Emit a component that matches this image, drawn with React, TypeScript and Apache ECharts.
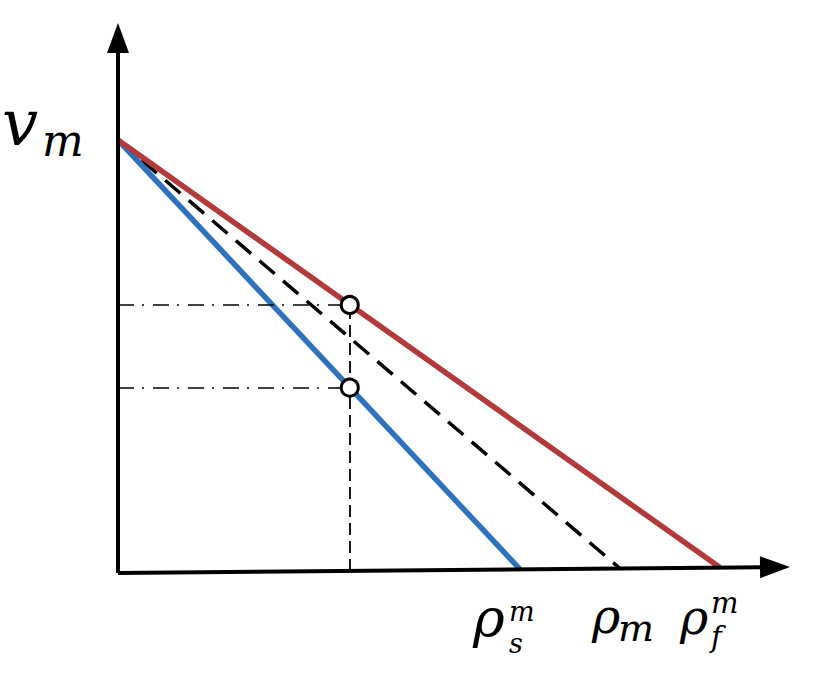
import React, { useEffect, useRef } from "react";
import * as echarts from "echarts";

// ---- data (normalised units: v_m = 1, rho_f^m = 1) ----
const vMax = 1.0;
const rhoS = 0.668; // rho_s^m
const rhoM = 0.834; // rho_m
const rhoF = 1.0; // rho_f^m
const axisTilt = 0.0125; // slight upward tilt of the drawn rho axis
const probeX = 0.385;
const upperVal = 0.619;
const lowerVal = 0.428;

const redLine = [
  [0, vMax],
  [rhoF, axisTilt * rhoF],
];
const blueLine = [
  [0, vMax],
  [rhoS, axisTilt * rhoS],
];
const dashedLine = [
  [0, vMax],
  [rhoM, axisTilt * rhoM],
];
const probePoints = [
  [probeX, upperVal],
  [probeX, lowerVal],
];

const xAxisEnd = 1.0914;
const yAxisEnd = 1.2356;
const xMax = 1.1163;
const yMax = 1.2656;

const vLabel = { base: "v", sub: "m" };
const rhoLabels = [
  { base: "ρ", sub: "s", sup: "m" },
  { base: "ρ", sub: "m", sup: "" },
  { base: "ρ", sub: "f", sup: "m" },
];

const RED = "#b3393a";
const BLUE = "#2e72bd";
const FONT = "DejaVu Serif";

// single-line text placed by its baseline
function txt(text: string, x: number, baseline: number, size: number) {
  return {
    type: "text",
    x,
    y: baseline - size * 0.32,
    z: 100,
    style: {
      text,
      fill: "#000",
      fontFamily: FONT,
      fontStyle: "italic",
      fontSize: size,
      textAlign: "left",
      verticalAlign: "middle",
    },
  };
}

// stacked superscript / subscript in one text element
function stack(sup: string, sub: string, x: number, supBaseline: number, subBaseline: number, size: number) {
  const lh = subBaseline - supBaseline;
  return {
    type: "text",
    x,
    y: supBaseline - size * 0.32 - lh / 2,
    z: 100,
    style: {
      text: sup + "\n" + sub,
      fill: "#000",
      fontFamily: FONT,
      fontStyle: "italic",
      fontSize: size,
      lineHeight: lh,
      textAlign: "left",
      verticalAlign: "top",
    },
  };
}

export default function App() {
  const ref = useRef<HTMLDivElement>(null);
  useEffect(() => {
    if (!ref.current) return;
    const chart = echarts.init(ref.current, null, { renderer: "svg" });
    const graphics: any[] = [
      txt(vLabel.base, 2, 143, 64),
      txt(vLabel.sub, 42, 155, 44),
      // rho_s^m
      txt(rhoLabels[0].base, 473, 636, 54),
      stack(rhoLabels[0].sup, rhoLabels[0].sub, 509, 620, 652, 27),
      // rho_m
      txt(rhoLabels[1].base, 592, 631, 48),
      txt(rhoLabels[1].sub, 618, 640, 38),
      // rho_f^m
      txt(rhoLabels[2].base, 680, 632, 48),
      stack(rhoLabels[2].sup, rhoLabels[2].sub, 711, 612, 646, 29),
    ];
    chart.setOption({
      animation: false,
      backgroundColor: "#ffffff",
      grid: { left: 118, right: 40, top: 25, bottom: 107 },
      xAxis: { type: "value", min: 0, max: xMax, show: false },
      yAxis: { type: "value", min: 0, max: yMax, show: false },
      graphic: graphics,
      series: [
        {
          // axes with arrow heads
          type: "line",
          data: [],
          z: 5,
          markLine: {
            silent: true,
            symbol: ["none", "triangle"],
            symbolSize: [22, 30],
            label: { show: false },
            lineStyle: { color: "#000", width: 4, type: "solid" },
            data: [
              [
                { coord: [0, 0] },
                { coord: [xAxisEnd, axisTilt * xAxisEnd] },
              ],
              [{ coord: [0, 0] }, { coord: [0, yAxisEnd] }],
            ],
          },
        },
        {
          // guide lines
          type: "line",
          data: [],
          z: 2,
          markLine: {
            silent: true,
            symbol: ["none", "none"],
            label: { show: false },
            data: [
              [
                { coord: [0, upperVal], lineStyle: { color: "#000", width: 1.6, type: [16, 8, 2, 9] } },
                { coord: [probeX, upperVal] },
              ],
              [
                { coord: [0, lowerVal], lineStyle: { color: "#000", width: 1.6, type: [16, 8, 2, 9] } },
                { coord: [probeX, lowerVal] },
              ],
            ],
          },
        },
        {
          type: "line",
          data: dashedLine,
          z: 3,
          showSymbol: false,
          symbol: "none",
          lineStyle: { color: "#000", width: 3.5, type: [20, 11] },
        },
        {
          type: "line",
          data: blueLine,
          z: 4,
          symbol: "none",
          lineStyle: { color: BLUE, width: 5.5 },
        },
        {
          type: "line",
          data: redLine,
          z: 4,
          symbol: "none",
          lineStyle: { color: RED, width: 5.5 },
        },
        {
          type: "scatter",
          data: probePoints,
          z: 6,
          symbol: "circle",
          symbolSize: 17,
          itemStyle: { color: "#ffffff", opacity: 1, borderColor: "#000", borderWidth: 3 },
        },
        {
          // vertical dashed guide
          type: "line",
          data: [],
          z: 7,
          markLine: {
            silent: true,
            symbol: ["none", "none"],
            label: { show: false },
            lineStyle: { color: "#000", width: 1.8, type: [12, 6] },
            data: [
              [
                { coord: [probeX, axisTilt * probeX] },
                { coord: [probeX, upperVal] },
              ],
            ],
          },
        },
      ],
    });
    return () => chart.dispose();
  }, []);
  return <div ref={ref} style={{ width: 830, height: 680, position: "absolute", left: 0, top: 0 }} />;
}
